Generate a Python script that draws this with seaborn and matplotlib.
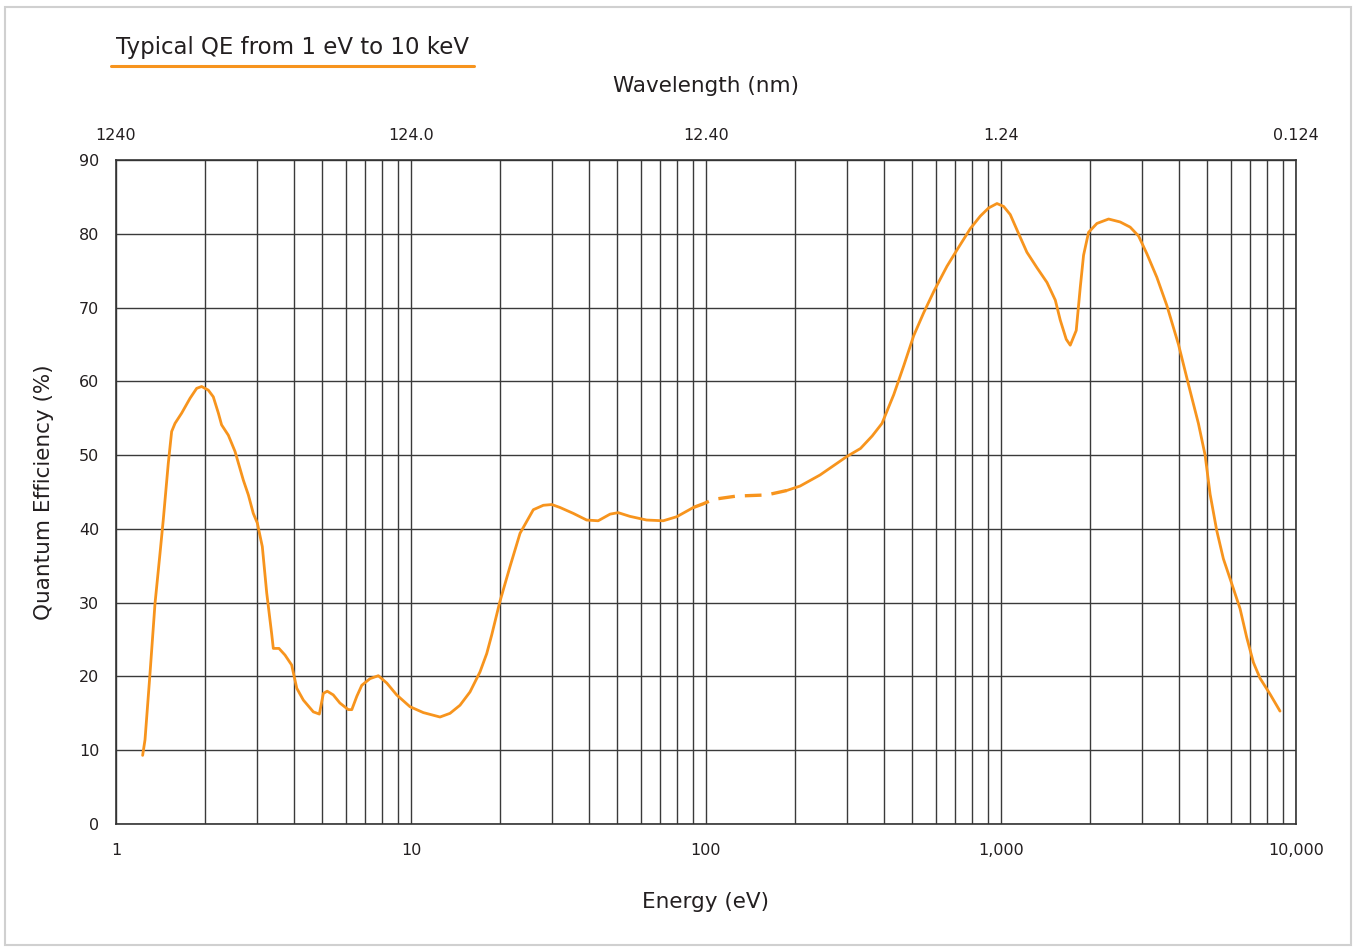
import numpy as np
import pandas as pd
import matplotlib
matplotlib.use('Agg')
import matplotlib.pyplot as plt
import seaborn as sns
from matplotlib.ticker import FixedLocator, NullFormatter
from matplotlib.patches import Rectangle
from matplotlib.lines import Line2D

# QE curve (energy in eV, QE in %)
energy_low = [1.231, 1.254, 1.304, 1.356, 1.41, 1.446, 1.504, 1.544, 1.585, 1.67,
              1.782, 1.877, 1.951, 2.056, 2.137, 2.223, 2.28, 2.403, 2.532, 2.702,
              2.81, 2.92, 3.013, 3.133, 3.243, 3.37, 3.414, 3.568, 3.74, 3.94,
              4.1, 4.315, 4.666, 4.89, 5.045, 5.2, 5.45, 5.74, 6.13, 6.3,
              6.55, 6.81, 7.26, 7.75, 8.28, 8.94, 9.92, 11.01, 12.54, 13.56,
              14.66, 15.85, 17.13, 18.06, 18.77, 20.0, 21.66, 23.42, 25.98, 28.09,
              30.0, 32.0, 35.5, 39.4, 43.1, 47.3, 50.4, 55.2, 62.9, 71.6,
              79.6, 90.6]
qe_low = [9.3, 11.4, 20.4, 29.9, 36.7, 41.2, 48.9, 53.2, 54.3, 55.7,
          57.7, 59.05, 59.3, 58.8, 57.9, 55.7, 54.1, 52.7, 50.5, 46.6,
          44.6, 42.1, 40.8, 37.6, 31.3, 25.8, 23.8, 23.8, 22.9, 21.55,
          18.4, 16.8, 15.2, 14.9, 17.7, 18.0, 17.5, 16.4, 15.5, 15.5,
          17.3, 18.8, 19.7, 20.1, 19.1, 17.5, 15.9, 15.1, 14.5, 15.0,
          16.1, 17.9, 20.6, 23.1, 25.6, 30.1, 34.9, 39.4, 42.6, 43.2,
          43.3, 42.9, 42.1, 41.2, 41.1, 42.0, 42.2, 41.7, 41.2, 41.1,
          41.65, 42.9]

# interpolated (dashed) stretch
energy_gap = [90.6, 97.9, 105.9, 127.0, 160.6, 187.7]
qe_gap = [42.9, 43.4, 44.0, 44.45, 44.6, 45.2]

energy_high = [187.7, 208.3, 243.4, 300.0, 334, 366, 395, 433, 468, 506,
               547, 592, 656, 709, 787, 851, 908, 969, 1021, 1075,
               1148, 1224, 1324, 1432, 1528, 1588, 1664, 1717, 1799, 1856,
               1905, 1981, 2114, 2316, 2535, 2741, 2926, 3122, 3375, 3648,
               3996, 4375, 4668, 4919, 5115, 5385, 5673, 6053, 6460, 6805,
               7171, 7554, 8167, 8826]
qe_high = [45.2, 45.8, 47.3, 49.8, 50.9, 52.6, 54.3, 58.2, 62.1, 66.2,
           69.3, 72.2, 75.6, 77.8, 80.7, 82.4, 83.5, 84.1, 83.7, 82.6,
           80.0, 77.5, 75.4, 73.4, 71.0, 68.3, 65.7, 64.9, 66.9, 72.7,
           77.1, 80.2, 81.4, 82.0, 81.6, 80.9, 79.7, 77.3, 74.1, 70.3,
           65.0, 58.7, 54.3, 50.0, 44.7, 39.8, 35.95, 32.6, 29.2, 25.3,
           21.9, 19.75, 17.6, 15.3]

energy_ticks = [1, 10, 100, 1000, 10000]
energy_labels = ['1', '10', '100', '1,000', '10,000']
wave_labels = ['1240', '124.0', '12.40', '1.24', '0.124']
y_ticks = list(range(0, 91, 10))

orange = '#F7941D'
text_col = '#231F20'

sns.set_style('white')
plt.rcParams['font.family'] = ['DejaVu Sans']

fig = plt.figure(figsize=(13.56, 9.47), dpi=100)
ax = fig.add_axes([116 / 1356, 1 - 824 / 947, 1180 / 1356, 664 / 947])

low = pd.DataFrame({'energy': energy_low, 'qe': qe_low})
gap = pd.DataFrame({'energy': energy_gap, 'qe': qe_gap})
high = pd.DataFrame({'energy': energy_high, 'qe': qe_high})

sns.lineplot(data=low, x='energy', y='qe', ax=ax, color=orange, lw=2,
             sort=False, estimator=None)
sns.lineplot(data=gap, x='energy', y='qe', ax=ax, color=orange, lw=2.4,
             sort=False, estimator=None, linestyle=(0, (5, 3)))
sns.lineplot(data=high, x='energy', y='qe', ax=ax, color=orange, lw=2,
             sort=False, estimator=None)

ax.set_xscale('log')
ax.set_xlim(1, 10000)
ax.set_ylim(0, 90)

ax.xaxis.set_major_locator(FixedLocator(energy_ticks))
ax.set_xticklabels(energy_labels)
minor = [m * 10 ** d for d in range(4) for m in range(2, 10)]
ax.xaxis.set_minor_locator(FixedLocator(minor))
ax.xaxis.set_minor_formatter(NullFormatter())
ax.set_yticks(y_ticks)

ax.grid(True, which='both', axis='x', color='#3a3a3a', lw=1)
ax.grid(True, which='major', axis='y', color='#3a3a3a', lw=1)
ax.set_axisbelow(True)
for s in ax.spines.values():
    s.set_color('#333333')
    s.set_linewidth(1.2)

ax.tick_params(axis='both', which='both', length=0, labelsize=11.5,
               colors=text_col, pad=14)
ax.tick_params(axis='y', pad=12)
ax.set_xlabel('Energy (eV)', fontsize=15.5, color=text_col, labelpad=24)
ax.set_ylabel('Quantum Efficiency (%)', fontsize=15.5, color=text_col, labelpad=18)

# wavelength scale on top
top = ax.twiny()
top.set_xscale('log')
top.set_xlim(ax.get_xlim())
top.xaxis.set_major_locator(FixedLocator(energy_ticks))
top.set_xticklabels(wave_labels)
top.xaxis.set_minor_locator(FixedLocator([]))
top.tick_params(axis='x', length=0, labelsize=11.5, colors=text_col, pad=12)
top.set_xlabel('Wavelength (nm)', fontsize=15.5, color=text_col, labelpad=26)
for s in top.spines.values():
    s.set_visible(False)

# title with orange underline
fig.text(116 / 1356, 1 - 47 / 947, 'Typical QE from 1 eV to 10 keV',
         fontsize=16.5, color=text_col, va='center', ha='left')
fig.add_artist(Line2D([111 / 1356, 474 / 1356], [1 - 66 / 947, 1 - 66 / 947],
                      color=orange, lw=2.2, transform=fig.transFigure))

# light frame round the whole picture
fig.add_artist(Rectangle((5 / 1356, 2 / 947), 1346 / 1356, 938 / 947,
                         transform=fig.transFigure, fill=False,
                         edgecolor='#d0d0d0', lw=1.5))

fig.savefig('out.png', dpi=100)
